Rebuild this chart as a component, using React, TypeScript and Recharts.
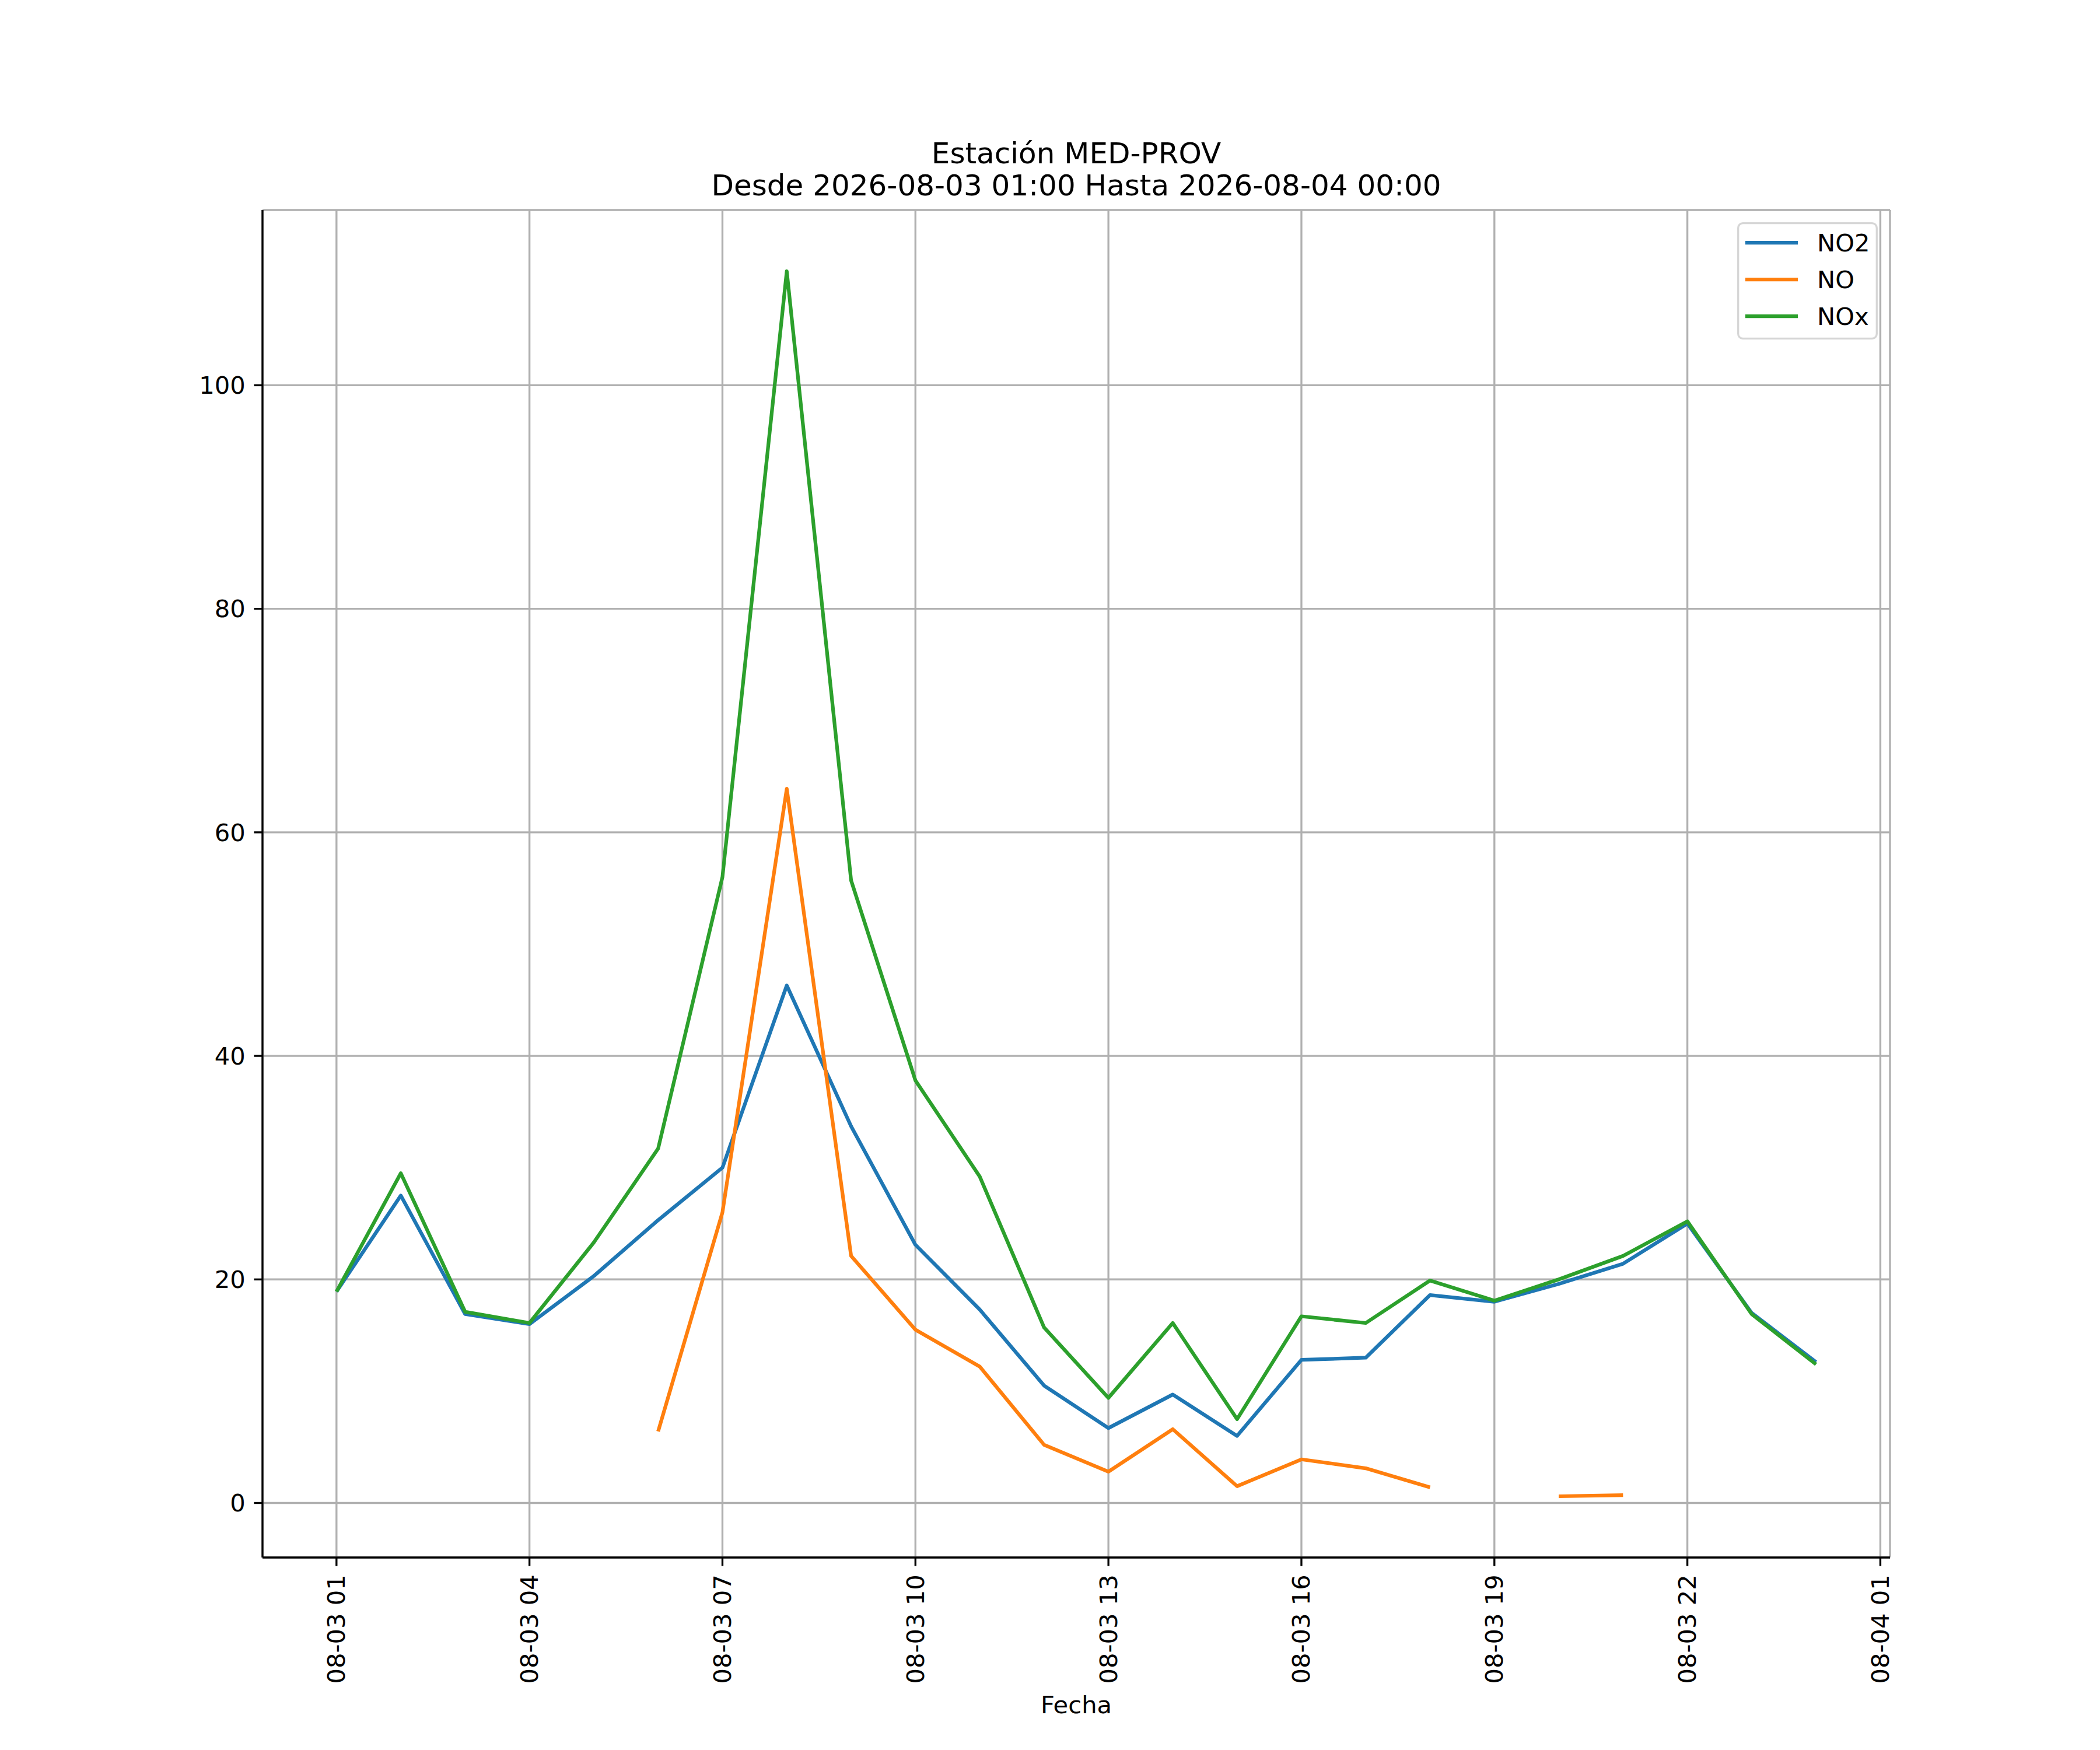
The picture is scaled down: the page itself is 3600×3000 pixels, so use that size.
import { LineChart, Line, XAxis, YAxis, CartesianGrid, Legend, Label } from "recharts";

// hourly readings, 2026-08-03 01:00 .. 2026-08-04 00:00 (hour 24 = next midnight)
const hours = [1, 2, 3, 4, 5, 6, 7, 8, 9, 10, 11, 12, 13, 14, 15, 16, 17, 18, 19, 20, 21, 22, 23, 24];
const no2 = [18.9, 27.5, 16.9, 16.0, 20.3, 25.3, 30.0, 46.3, 33.7, 23.1, 17.3, 10.5, 6.7, 9.7, 6.0, 12.8, 13.0, 18.6, 18.0, 19.6, 21.4, 25.0, 17.0, 12.6];
const no = [null, null, null, null, null, 6.4, 26.0, 63.9, 22.1, 15.5, 12.2, 5.2, 2.8, 6.6, 1.5, 3.9, 3.1, 1.4, null, 0.6, 0.7, null, null, null];
const nox = [18.9, 29.5, 17.1, 16.1, 23.3, 31.7, 56.0, 110.2, 55.7, 37.8, 29.2, 15.7, 9.4, 16.1, 7.5, 16.7, 16.1, 19.9, 18.1, 20.0, 22.1, 25.2, 16.9, 12.4];

const seriesNames = ["NO2", "NO", "NOx"];

const xTicks = [1, 4, 7, 10, 13, 16, 19, 22, 25];
const xTickLabels = ["08-03 01", "08-03 04", "08-03 07", "08-03 10", "08-03 13", "08-03 16", "08-03 19", "08-03 22", "08-04 01"];
const yTicks = [0, 20, 40, 60, 80, 100];

const titleLines = ["Estación MED-PROV", "Desde 2026-08-03 01:00 Hasta 2026-08-04 00:00"];

const data = hours.map((h, i) => ({ hour: h, NO2: no2[i], NO: no[i], NOx: nox[i] }));

// matplotlib-style 5% margins
const xPad = 0.05 * (hours[hours.length - 1] - hours[0]);
const xDomain = [hours[0] - xPad, hours[hours.length - 1] + xPad];
const allVals = [...no2, ...no, ...nox].filter((v) => v != null) as number[];
const yMin = Math.min(...allVals);
const yMax = Math.max(...allVals);
const yPad = 0.05 * (yMax - yMin);
const yDomain = [yMin - yPad, yMax + yPad];

const FONT = "DejaVu Sans";
const PT = 300 / 72;

const XTick = (props: any) => {
  const { x, y, payload } = props;
  const label = xTickLabels[xTicks.indexOf(payload.value)];
  return (
    <text
      x={x}
      y={y}
      transform={`rotate(-90, ${x}, ${y})`}
      textAnchor="end"
      dominantBaseline="central"
      fontFamily={FONT}
      fontSize={10 * PT}
      fill="#000"
    >
      {label}
    </text>
  );
};

const renderLegend = (props: any) => {
  const items = [...(props.payload || [])].sort(
    (a: any, b: any) => seriesNames.indexOf(a.value) - seriesNames.indexOf(b.value)
  );
  return (
    <svg width={241} height={201} style={{ display: "block" }}>
      <rect x={1.7} y={1.7} width={237.6} height={197.6} rx={8} fill="#fff" fillOpacity={0.8} stroke="#cccccc" strokeOpacity={0.8} strokeWidth={3.33} />
      {items.map((item: any, i: number) => (
        <g key={item.value}>
          <line x1={14} x2={104} y1={35 + i * 63} y2={35 + i * 63} stroke={item.color} strokeWidth={1.5 * PT} />
          <text x={137} y={35 + i * 63} dominantBaseline="central" fontFamily={FONT} fontSize={10 * PT} fill="#000">
            {item.value}
          </text>
        </g>
      ))}
    </svg>
  );
};

export default function App() {
  const axisStroke = { stroke: "#000", strokeWidth: 0.8 * PT };
  return (
    <div style={{ position: "absolute", left: 0, top: 0, width: 3600, height: 3000, background: "#fff" }}>
      <LineChart width={3600} height={3000} data={data} margin={{ top: 360, right: 360, bottom: 0, left: 0 }}>
        <CartesianGrid stroke="#b0b0b0" strokeWidth={0.8 * PT} />
        <XAxis
          dataKey="hour"
          type="number"
          domain={xDomain}
          ticks={xTicks}
          allowDataOverflow
          height={330}
          interval={0}
          axisLine={axisStroke}
          tickLine={axisStroke}
          tickSize={3.5 * PT}
          tickMargin={3.5 * PT}
          tick={<XTick />}
        >
          <Label value="Fecha" position="insideBottom" offset={63} fontFamily={FONT} fontSize={10 * PT} fill="#000" />
        </XAxis>
        <XAxis xAxisId="top" orientation="top" dataKey="hour" type="number" domain={xDomain} height={0} tick={false} tickLine={false} axisLine={axisStroke} />
        <YAxis
          type="number"
          domain={yDomain}
          ticks={yTicks}
          allowDataOverflow
          width={450}
          interval={0}
          axisLine={axisStroke}
          tickLine={axisStroke}
          tickSize={3.5 * PT}
          tickMargin={3.5 * PT}
          tick={{ fontFamily: FONT, fontSize: 10 * PT, fill: "#000" }}
        />
        <YAxis yAxisId="right" orientation="right" type="number" domain={yDomain} width={0} tick={false} tickLine={false} axisLine={axisStroke} />
        <Line type="linear" dataKey="NO2" name="NO2" stroke="#1f77b4" strokeWidth={1.5 * PT} strokeLinejoin="round" dot={false} activeDot={false} isAnimationActive={false} />
        <Line type="linear" dataKey="NO" name="NO" stroke="#ff7f0e" strokeWidth={1.5 * PT} strokeLinejoin="round" dot={false} activeDot={false} isAnimationActive={false} />
        <Line type="linear" dataKey="NOx" name="NOx" stroke="#2ca02c" strokeWidth={1.5 * PT} strokeLinejoin="round" dot={false} activeDot={false} isAnimationActive={false} />
        <Legend
          layout="horizontal"
          verticalAlign="middle"
          align="center"
          wrapperStyle={{ top: 381, left: 2978, width: 241, height: 201 }}
          content={renderLegend}
        />
      </LineChart>
      <svg width={3600} height={400} style={{ position: "absolute", left: 0, top: 0, pointerEvents: "none" }}>
        {titleLines.map((t, i) => (
          <text key={t} x={1845} y={280 + i * 55} textAnchor="middle" fontFamily={FONT} fontSize={12 * PT} fill="#000">
            {t}
          </text>
        ))}
      </svg>
    </div>
  );
}
